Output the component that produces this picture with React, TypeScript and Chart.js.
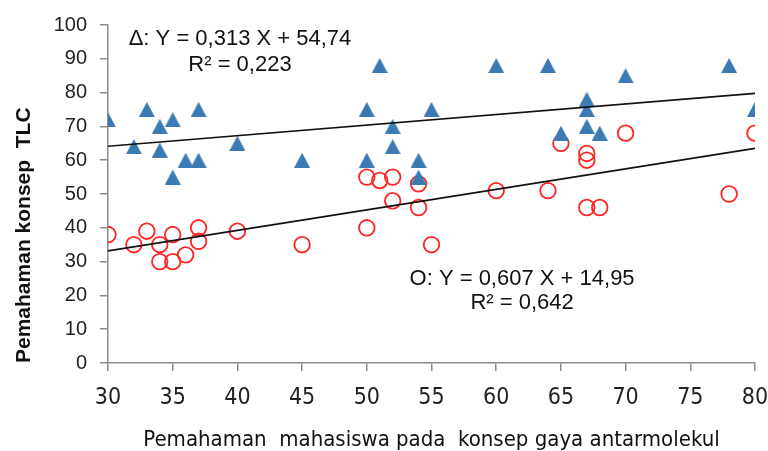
import { useEffect, useRef } from "react";
import { Chart, registerables } from "chart.js";

Chart.register(...registerables);

// ---- data ----
const triX = [30, 32, 33, 34, 34, 35, 35, 36, 37, 37, 40, 45, 50, 50, 51, 52, 52, 54, 54, 55, 60, 64, 65, 67, 67, 67, 68, 70, 78, 80];
const triY = [72, 64, 75, 70, 63, 72, 55, 60, 60, 75, 65, 60, 75, 60, 88, 70, 64, 60, 55, 75, 88, 88, 68, 78, 75, 70, 68, 85, 88, 75];
const cirX = [30, 32, 33, 34, 34, 35, 35, 36, 37, 37, 40, 45, 50, 50, 51, 52, 52, 54, 54, 55, 60, 64, 65, 67, 67, 67, 68, 70, 78, 80];
const cirY = [38, 35, 39, 35, 30, 38, 30, 32, 40, 36, 39, 35, 55, 40, 54, 55, 48, 53, 46, 35, 51, 51, 65, 62, 60, 46, 46, 68, 50, 68];

const triSlope = 0.313;
const triIntercept = 54.74;
const cirSlope = 0.607;
const cirIntercept = 14.95;
const trendX = [30, 80];

const triLabel = ["\u0394: Y = 0,313 X + 54,74", "R\u00B2 = 0,223"];
const cirLabel = ["O: Y = 0,607 X + 14,95", "R\u00B2 = 0,642"];
const triLabelAnchor = { x: 40.2, y: [94.1, 86.3] };
const cirLabelAnchor = { x: 62.0, y: [23.2, 15.9] };

const xTitle = "Pemahaman  mahasiswa pada  konsep gaya antarmolekul";
const yTitle = "Pemahaman konsep  TLC";

const X_MIN = 30, X_MAX = 80, X_STEP = 5;
const Y_MIN = 0, Y_MAX = 100, Y_STEP = 10;

const BLUE = "#3b7ab3";
const RED = "#ff2424";
const AXIS = "#8c8c8c";
const NARROW = "'Liberation Sans Narrow', 'DejaVu Sans Condensed', 'Liberation Sans', sans-serif";
const ARIAL = "'Liberation Sans', Arial, sans-serif";

function makeTriangle(): HTMLCanvasElement {
  const c = document.createElement("canvas");
  c.width = 16;
  c.height = 15;
  const g = c.getContext("2d")!;
  g.fillStyle = BLUE;
  g.beginPath();
  g.moveTo(0, 15);
  g.lineTo(8, 0);
  g.lineTo(16, 15);
  g.closePath();
  g.fill();
  return c;
}

const annotationPlugin = {
  id: "eqLabels",
  afterDatasetsDraw(chart: any) {
    const { ctx, scales } = chart;
    const xs = scales.x;
    const ys = scales.y;
    ctx.save();
    ctx.font = `22px ${ARIAL}`;
    ctx.fillStyle = "#111";
    ctx.textAlign = "center";
    ctx.textBaseline = "alphabetic";
    const draw = (lines: string[], anchor: { x: number; y: number[] }) => {
      lines.forEach((t, i) => {
        ctx.fillText(t, xs.getPixelForValue(anchor.x), ys.getPixelForValue(anchor.y[i]));
      });
    };
    draw(triLabel, triLabelAnchor);
    draw(cirLabel, cirLabelAnchor);
    ctx.restore();
  },
};

export default function App() {
  const ref = useRef<HTMLCanvasElement>(null);

  useEffect(() => {
    document.body.style.margin = "0";
    const canvas = ref.current!;
    const tri = makeTriangle();
    const chart = new Chart(canvas, {
      type: "scatter",
      data: {
        datasets: [
          {
            data: trendX.map((x) => ({ x, y: triSlope * x + triIntercept })),
            showLine: true,
            borderColor: "#111",
            borderWidth: 1.6,
            pointRadius: 0,
          },
          {
            data: trendX.map((x) => ({ x, y: cirSlope * x + cirIntercept })),
            showLine: true,
            borderColor: "#111",
            borderWidth: 1.6,
            pointRadius: 0,
          },
          {
            data: triX.map((x, i) => ({ x, y: triY[i] })),
            pointStyle: tri as any,
            pointRadius: 8,
            backgroundColor: BLUE,
            borderColor: BLUE,
          },
          {
            data: cirX.map((x, i) => ({ x, y: cirY[i] })),
            pointStyle: "circle",
            pointRadius: 7.8,
            borderWidth: 1.8,
            borderColor: RED,
            backgroundColor: "rgba(0,0,0,0)",
          },
        ],
      },
      options: {
        animation: false,
        responsive: false,
        layout: { padding: { top: 22, right: 13, left: 0, bottom: 0 } },
        plugins: { legend: { display: false }, tooltip: { enabled: false } },
        scales: {
          x: {
            type: "linear",
            min: X_MIN,
            max: X_MAX,
            afterFit: (s: any) => {
              s.height = 88;
              s.paddingLeft = 0;
              s.paddingRight = 0;
            },
            ticks: {
              stepSize: X_STEP,
              maxRotation: 0,
              padding: 13,
              color: "#222",
              font: { family: NARROW, size: 23 },
            },
            grid: { drawOnChartArea: false, drawTicks: true, tickLength: 8, color: AXIS, lineWidth: 1.5 },
            border: { color: AXIS, width: 1.5 },
            title: {
              display: true,
              text: xTitle,
              color: "#111",
              padding: { top: 0, bottom: 0 },
              font: { family: NARROW, size: 22, lineHeight: 1 },
            },
          },
          y: {
            type: "linear",
            min: Y_MIN,
            max: Y_MAX,
            afterFit: (s: any) => {
              s.width = 108;
            },
            ticks: {
              stepSize: Y_STEP,
              padding: 13,
              color: "#222",
              font: { family: ARIAL, size: 20 },
            },
            grid: { drawOnChartArea: false, drawTicks: true, tickLength: 8, color: AXIS, lineWidth: 1.5 },
            border: { color: AXIS, width: 1.5 },
            title: {
              display: true,
              text: yTitle,
              align: "start",
              color: "#111",
              padding: { top: 12, bottom: 0 },
              font: { family: ARIAL, size: 21, weight: "bold", lineHeight: 1.2 },
            },
          },
        },
      },
      plugins: [annotationPlugin],
    });
    return () => chart.destroy();
  }, []);

  return (
    <div style={{ width: 768, height: 451 }}>
      <canvas ref={ref} width={768} height={451} />
    </div>
  );
}
